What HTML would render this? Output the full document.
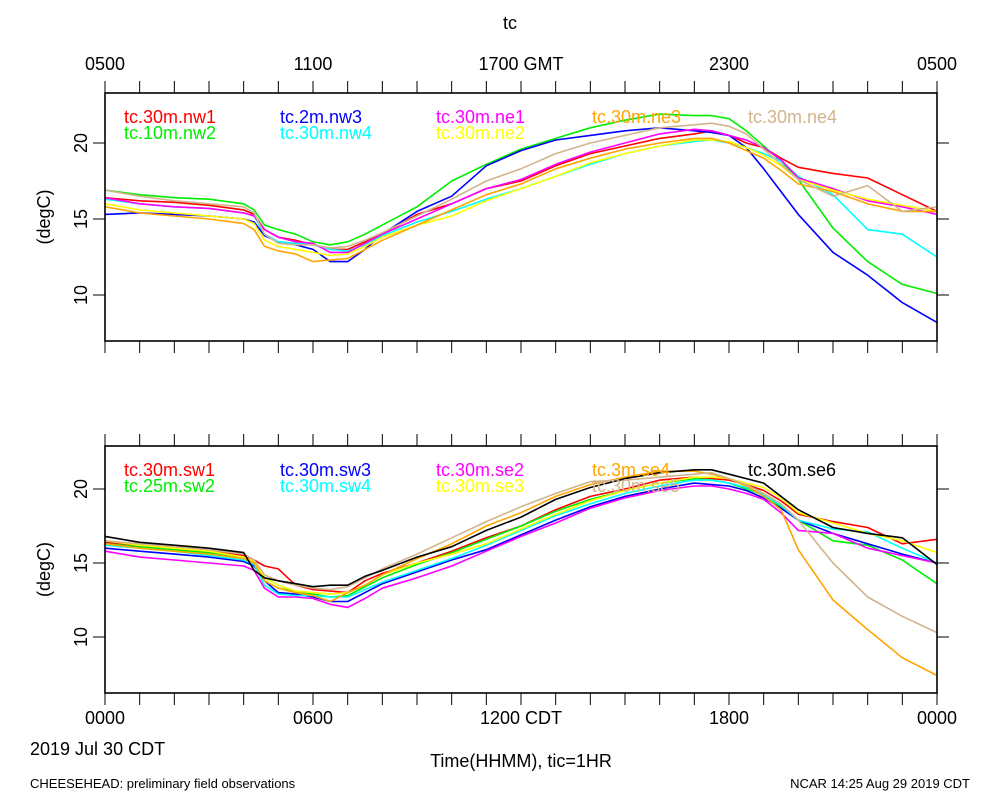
<!DOCTYPE html>
<html><head><meta charset="utf-8"><style>
html,body{margin:0;padding:0;background:#fff;}
svg{display:block;font-family:"Liberation Sans",sans-serif;}
</style></head><body>
<svg id="chart" width="1000" height="800" viewBox="0 0 1000 800"></svg>
<script>
const hours = [0,1,2,3,4,4.3,4.6,5,5.5,6,6.5,7,7.5,8,9,10,11,12,13,14,15,16,17,17.5,18,18.5,19,19.5,20,21,22,23,24];
const topNames = ["tc.30m.nw1","tc.10m.nw2","tc.2m.nw3","tc.30m.nw4","tc.30m.ne1","tc.30m.ne2","tc.30m.ne3","tc.30m.ne4"];
const botNames = ["tc.30m.sw1","tc.25m.sw2","tc.30m.sw3","tc.30m.sw4","tc.30m.se2","tc.30m.se3","tc.3m.se4","tc.30m.se5","tc.30m.se6"];
const nw1 = [16.4,16.2,16.1,15.9,15.6,15.3,14.3,13.8,13.6,13.3,13.0,13.0,13.5,14.0,15.3,16.0,17.0,17.5,18.5,19.3,19.8,20.3,20.6,20.8,20.5,20.0,19.7,19.0,18.4,18.0,17.7,16.6,15.5];
const nw2 = [16.9,16.6,16.4,16.3,16.0,15.6,14.6,14.3,14.0,13.5,13.3,13.5,14.0,14.6,15.8,17.5,18.6,19.6,20.3,21.0,21.5,21.9,21.8,21.8,21.6,20.8,19.8,18.8,17.6,14.4,12.2,10.7,10.1];
const nw3 = [15.3,15.4,15.3,15.2,15.0,14.8,13.9,13.5,13.3,13.0,12.2,12.2,13.0,14.0,15.5,16.5,18.5,19.5,20.2,20.5,20.8,21.0,20.8,20.7,20.5,19.7,18.3,16.8,15.3,12.8,11.3,9.5,8.2];
const nw4 = [16.3,16.0,15.8,15.7,15.4,15.2,14.0,13.5,13.4,13.3,13.0,12.9,13.3,13.9,14.8,15.5,16.3,17.0,17.8,18.6,19.3,19.8,20.1,20.2,20.0,19.7,19.3,18.8,17.8,16.6,14.3,14.0,12.5];
const ne1 = [16.4,16.0,15.8,15.7,15.4,15.2,14.3,13.8,13.5,13.4,12.8,12.8,13.4,14.0,15.0,16.0,17.0,17.6,18.6,19.4,20.0,20.6,20.9,20.8,20.5,20.2,19.7,18.9,17.7,17.0,16.2,15.8,15.3];
const ne2 = [16.0,15.6,15.4,15.2,15.0,14.7,13.6,13.2,13.0,12.8,12.6,12.7,13.2,13.8,14.6,15.2,16.2,17.0,17.8,18.7,19.3,19.8,20.2,20.2,20.1,19.7,19.2,18.5,17.6,16.9,16.3,15.9,15.5];
const ne3 = [15.8,15.4,15.2,15.0,14.7,14.3,13.2,12.9,12.7,12.2,12.3,12.4,13.0,13.6,14.6,15.6,16.6,17.3,18.3,19.0,19.6,20.0,20.3,20.3,20.0,19.5,19.0,18.2,17.3,16.8,16.0,15.5,15.5];
const ne4 = [16.9,16.5,16.2,16.0,15.8,15.4,14.0,13.4,13.3,13.3,13.1,13.2,13.6,14.1,15.2,16.3,17.5,18.3,19.3,20.0,20.5,21.0,21.2,21.3,21.1,20.6,19.6,18.6,17.6,16.5,17.2,15.5,15.8];
const sw1 = [16.4,16.2,16.0,15.8,15.5,15.2,14.8,14.6,13.5,13.2,13.1,13.0,13.8,14.3,15.0,15.8,16.7,17.5,18.6,19.5,20.0,20.6,20.8,20.7,20.6,20.3,19.9,19.2,18.3,17.8,17.4,16.3,16.6];
const sw2 = [16.3,16.1,15.9,15.7,15.4,15.0,14.0,13.5,13.0,12.9,12.7,12.8,13.4,14.0,14.9,15.7,16.6,17.5,18.5,19.3,19.9,20.4,20.7,20.6,20.4,20.0,19.6,18.8,17.9,16.5,16.2,15.2,13.6];
const sw3 = [16.0,15.8,15.6,15.4,15.1,14.8,13.8,13.0,12.9,12.7,12.4,12.4,13.0,13.6,14.4,15.2,15.9,16.9,17.9,18.8,19.5,20.0,20.4,20.3,20.2,19.9,19.4,18.7,17.9,17.0,16.3,15.6,15.0];
const sw4 = [16.2,16.0,15.8,15.5,15.2,14.9,13.5,12.9,12.8,12.8,12.7,12.7,13.2,13.7,14.5,15.3,16.2,17.2,18.2,19.0,19.7,20.2,20.6,20.6,20.4,20.1,19.6,18.9,17.9,17.3,17.1,16.0,15.0];
const se2 = [15.8,15.4,15.2,15.0,14.8,14.5,13.3,12.7,12.7,12.6,12.2,12.0,12.6,13.3,14.0,14.8,15.8,16.8,17.7,18.7,19.4,19.9,20.2,20.2,20.0,19.7,19.3,18.4,17.2,17.0,16.0,15.5,15.0];
const se3 = [16.5,16.2,16.0,15.8,15.4,15.1,14.0,13.5,13.1,13.0,12.9,13.0,13.5,14.2,15.0,15.6,16.3,17.3,18.3,19.2,19.9,20.4,20.8,20.8,20.7,20.4,20.1,19.4,18.4,17.7,17.0,16.5,15.7];
const se4 = [16.3,16.0,15.8,15.6,15.3,15.0,13.8,13.3,13.0,12.8,12.4,13.0,13.5,14.2,15.3,16.3,17.5,18.4,19.5,20.3,20.8,21.2,21.2,21.0,20.7,20.2,19.5,18.6,15.9,12.5,10.5,8.6,7.4];
const se5 = [16.5,16.3,16.1,15.9,15.6,15.2,14.2,13.8,13.5,13.3,13.2,13.4,14.0,14.6,15.6,16.7,17.8,18.8,19.7,20.5,20.6,20.8,21.0,21.1,20.7,20.3,19.7,19.0,17.9,15.0,12.7,11.4,10.3];
const se6 = [16.8,16.4,16.2,16.0,15.7,14.5,14.0,13.8,13.6,13.4,13.5,13.5,14.1,14.5,15.4,16.1,17.2,18.1,19.3,20.1,20.7,21.1,21.3,21.3,21.0,20.7,20.4,19.5,18.6,17.4,17.0,16.7,14.9];
const topSeries = [nw1,nw2,nw3,nw4,ne1,ne2,ne3,ne4];
const botSeries = [sw1,sw2,sw3,sw4,se2,se3,se4,se5,se6];
const colors = ["#ff0000","#00ee00","#0000ff","#00ffff","#ff00ff","#ffff00","#ffa500","#d2b48c","#000000"];
const yTicks = [10,15,20];
const topTickLabels = ["0500","1100","1700 GMT","2300","0500"];
const botTickLabels = ["0000","0600","1200 CDT","1800","0000"];

const NS="http://www.w3.org/2000/svg";
const svg=document.getElementById('chart');
const X0=105,X1=937;
const xs=h=>X0+h*(X1-X0)/24;
function mk(tag,attrs,parent){const e=document.createElementNS(NS,tag);for(const k in attrs)e.setAttribute(k,attrs[k]);(parent||svg).appendChild(e);return e;}
function txt(x,y,s,size,fill,anchor,parent){const t=mk('text',{x:x,y:y,'font-size':size,fill:fill,'text-anchor':anchor||'start'},parent);t.textContent=s;return t;}

function panel(top,bottom,y20,pxPerDeg,series,names,tickLabels,tickY,pname,isTop){
  const g=mk('g',{});
  
  
  const ys=v=>y20-(v-20)*pxPerDeg;
  series.forEach((arr,i)=>{
    const d=arr.map((v,j)=>(j?'L':'M')+xs(hours[j]).toFixed(1)+','+ys(v).toFixed(1)).join(' ');
    const p=mk('path',{d:d,fill:'none',stroke:colors[i],'stroke-width':1.6,'stroke-linejoin':'round'},g);
    
    
  });
  const f=mk('rect',{x:X0,y:top,width:X1-X0,height:bottom-top,fill:'none',stroke:'#000','stroke-width':1.6},g);
  
  
  for(let h=0;h<=24;h++){
    const x=xs(h);
    mk('line',{x1:x,y1:top,x2:x,y2:top-12,stroke:'#000','stroke-width':1},g);
    mk('line',{x1:x,y1:bottom,x2:x,y2:bottom+12,stroke:'#000','stroke-width':1},g);
  }
  tickLabels.forEach((s,i)=>{
    const t=txt(xs(i*6),tickY,s,18,'#000','middle',g);
    
    
  });
  yTicks.forEach(v=>{
    const y=ys(v);
    mk('line',{x1:X0,y1:y,x2:X0-12,y2:y,stroke:'#000','stroke-width':1},g);
    mk('line',{x1:X1,y1:y,x2:X1+12,y2:y,stroke:'#000','stroke-width':1},g);
    const t=txt(0,0,String(v),18,'#000','middle',g);
    t.setAttribute('transform','translate(87,'+y+') rotate(-90)');
    
    
  });
  const yl=txt(0,0,'(degC)',18,'#000','middle',g);
  yl.setAttribute('transform','translate(50,'+((top+bottom)/2)+') rotate(-90)');
  
  
  names.forEach((n,i)=>{
    const col=Math.floor(i/2), row=i%2;
    let cx=124+col*156, cy=top+30+row*16;
    if(isTop && i>=6){cx=592+(i-6)*156;cy=top+30;}
    if(!isTop && i===8){cx=748;cy=top+30;}
    const t=txt(cx,cy,n,18,colors[i],'start',g);
    
    
  });
}
panel(93,341,143,15.2,topSeries,topNames,topTickLabels,70,'top-panel',true);
panel(446,693,489,14.8,botSeries,botNames,botTickLabels,724,'bottom-panel',false);

let t;
t=txt(510,29,'tc',18,'#000','middle');


t=txt(30,755,'2019 Jul 30 CDT',18,'#000','start');


t=txt(521,767,'Time(HHMM), tic=1HR',18,'#000','middle');


t=txt(30,788,'CHEESEHEAD: preliminary field observations',13,'#000','start');


t=txt(970,788,'NCAR 14:25 Aug 29 2019 CDT',13,'#000','end');


</script>
</body></html>
